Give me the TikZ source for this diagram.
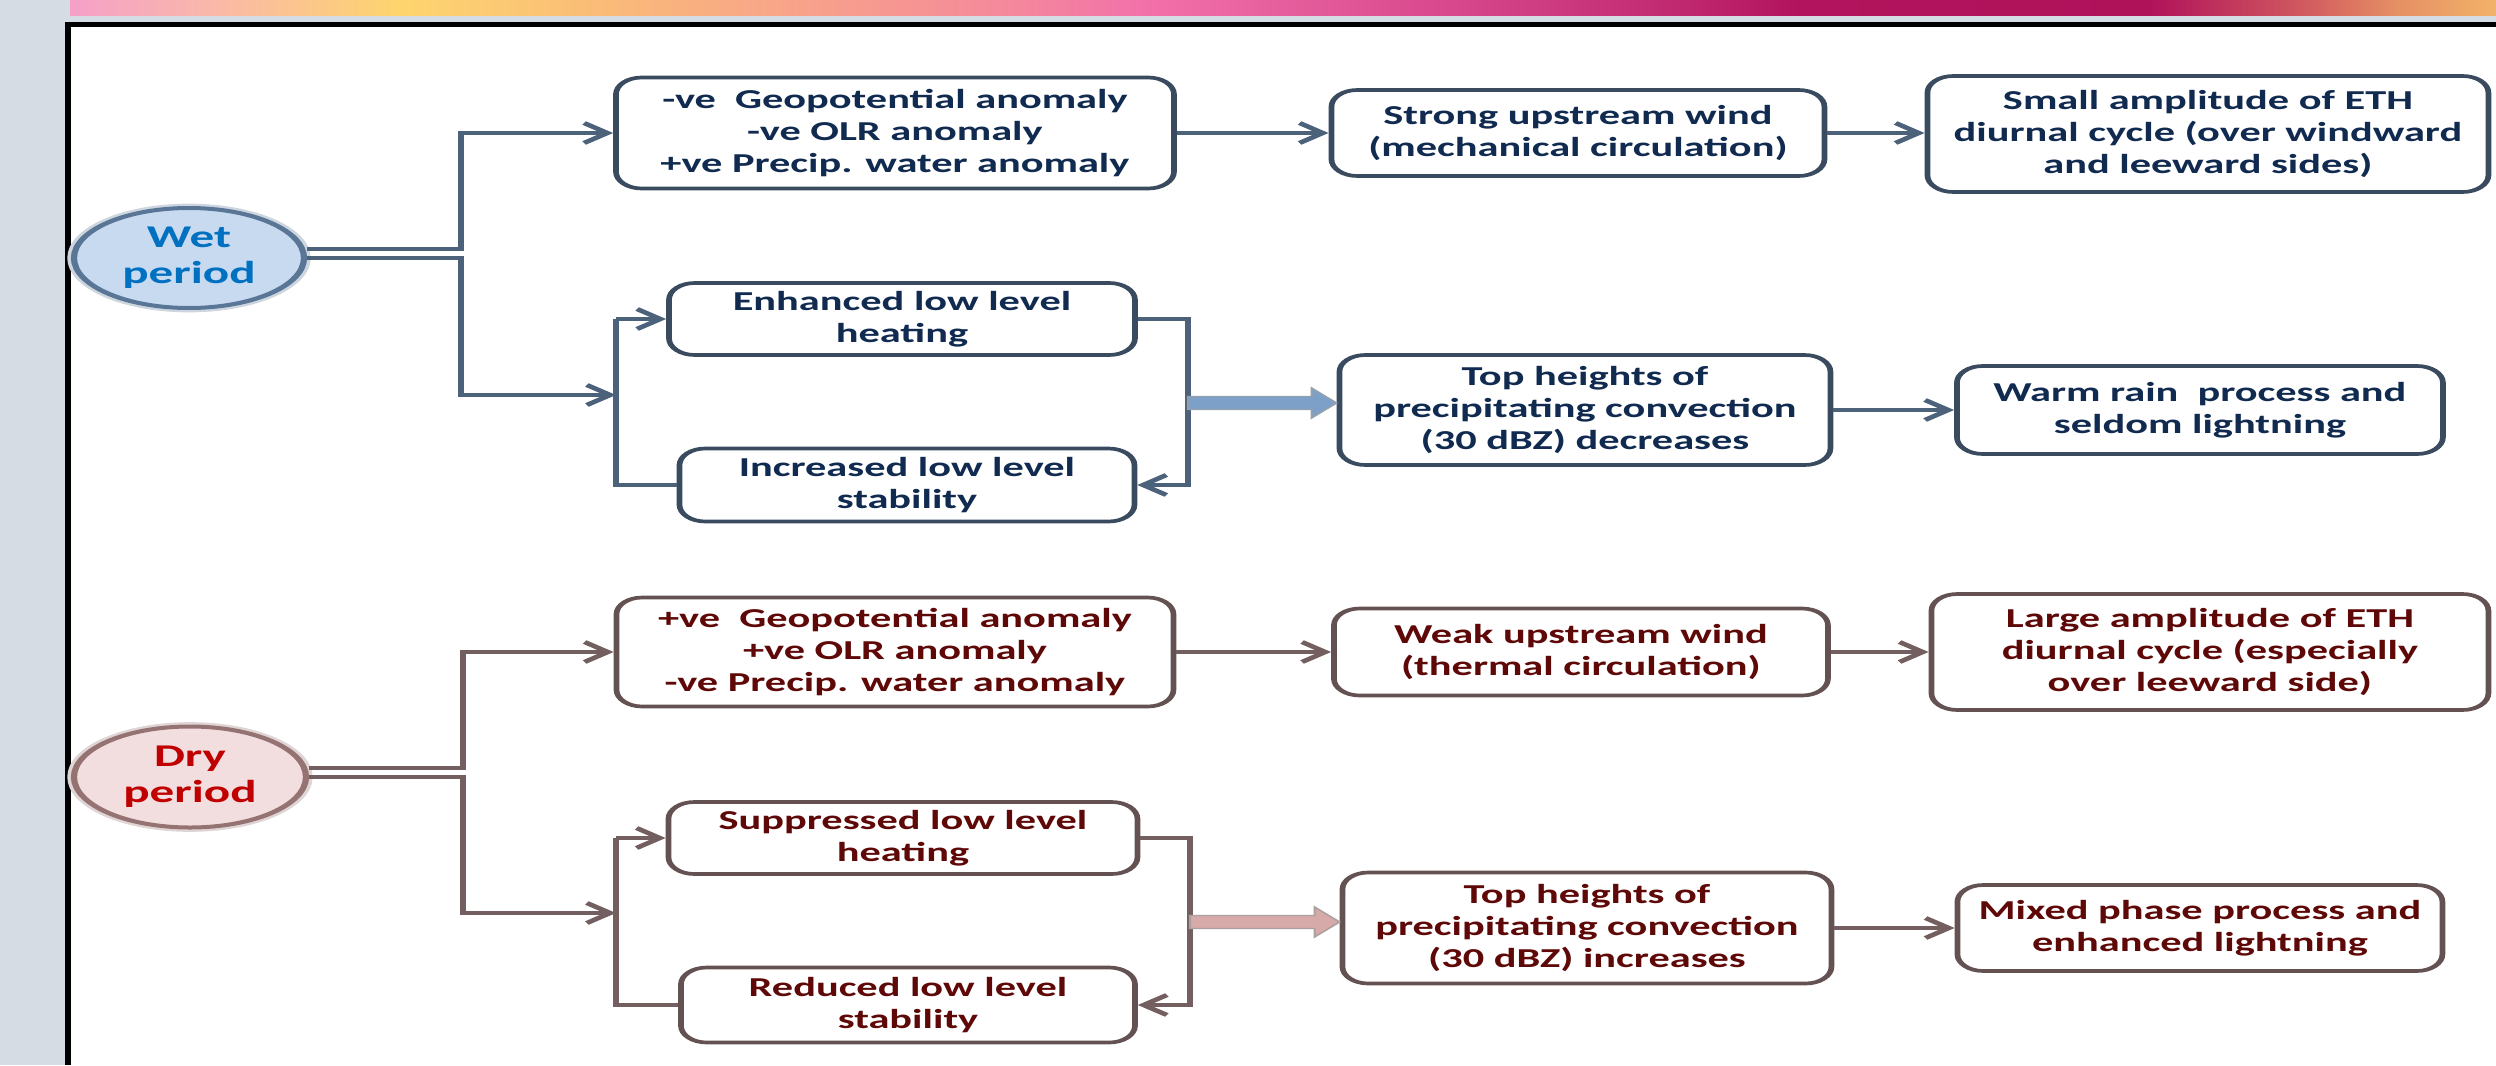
\documentclass[tikz,border=0pt]{standalone}
\usepackage{fontspec}
\setmainfont{Carlito}
\usetikzlibrary{arrows.meta,shapes.geometric,calc}
\definecolor{bggray}{RGB}{214,220,228}
\definecolor{wettext}{RGB}{0,112,192}
\definecolor{wetfill}{RGB}{200,218,240}
\definecolor{wetborder}{RGB}{90,118,150}
\definecolor{bluetext}{RGB}{16,42,80}
\definecolor{blueborder}{RGB}{58,75,95}
\definecolor{blueline}{RGB}{75,98,122}
\definecolor{bluearrow}{RGB}{125,160,200}
\definecolor{drytext}{RGB}{192,0,0}
\definecolor{dryfill}{RGB}{242,222,222}
\definecolor{dryborder}{RGB}{150,115,115}
\definecolor{redtext}{RGB}{95,8,8}
\definecolor{redborder}{RGB}{100,82,82}
\definecolor{redline}{RGB}{115,95,95}
\definecolor{redarrow}{RGB}{215,170,170}
\definecolor{g0}{RGB}{245,160,200}
\definecolor{g1}{RGB}{249,182,172}
\definecolor{g2}{RGB}{253,213,110}
\definecolor{g3}{RGB}{250,188,120}
\definecolor{g4}{RGB}{248,162,138}
\definecolor{g5}{RGB}{244,138,155}
\definecolor{g6}{RGB}{242,112,170}
\definecolor{g7}{RGB}{215,72,140}
\definecolor{g8}{RGB}{195,45,115}
\definecolor{g9}{RGB}{178,20,93}
\definecolor{g10}{RGB}{176,18,90}
\definecolor{g11}{RGB}{208,88,95}
\definecolor{g12}{RGB}{230,145,100}
\definecolor{g13}{RGB}{242,178,105}
\pgfdeclarehorizontalshading{topbar}{100bp}{color(0bp)=(g0); color(25bp)=(g0); color(27.7bp)=(g1); color(31.8bp)=(g2); color(35.9bp)=(g3); color(40.05bp)=(g4); color(44.15bp)=(g5); color(47.25bp)=(g6); color(53.45bp)=(g7); color(57.55bp)=(g8); color(60.65bp)=(g9); color(67.85bp)=(g10); color(70.95bp)=(g11); color(73bp)=(g12); color(75bp)=(g13); color(100bp)=(g13)}
\newcommand\bxf{\fontsize{8.2pt}{9.7pt}\selectfont\bfseries}
\newcommand\elf{\fontsize{9.5pt}{10.8pt}\selectfont\bfseries}
\tikzset{
  sz/.style 2 args={minimum width=#1*0.193548pt, minimum height=#2*0.3pt},
  wbox/.style={draw=blueborder, line width=1.1pt, rounded corners=5pt, fill=white, text=bluetext, font=\bxf, align=center, inner sep=0pt},
  dbox/.style={draw=redborder, line width=1.1pt, rounded corners=5pt, fill=white, text=redtext, font=\bxf, align=center, inner sep=0pt},
  wline/.style={draw=blueline, line width=1.25pt},
  dline/.style={draw=redline, line width=1.25pt},
  warr/.style={wline, -{Straight Barb[length=4.5pt,width=6pt]}},
  darr/.style={dline, -{Straight Barb[length=4.5pt,width=6pt]}},
  wellipse/.style={ellipse, draw=wetborder, line width=1.2pt, fill=wetfill, text=wettext, font=\elf, align=center, inner sep=0pt, sz={230}{100}, preaction={draw=wetborder!30, line width=2.6pt}},
  dellipse/.style={ellipse, draw=dryborder, line width=1.2pt, fill=dryfill, text=drytext, font=\elf, align=center, inner sep=0pt, sz={232}{101}, preaction={draw=dryborder!30, line width=2.6pt}}
}
\begin{document}
\begin{tikzpicture}[x=0.3pt,y=-0.3pt]
\useasboundingbox (0,0) rectangle (2496,1065);
\fill[white] (0,0) rectangle (2496,1065);
\fill[bggray] (0,0) rectangle (2496,22);
\fill[bggray] (0,0) rectangle (65,1065);
\shade[shading=topbar] (70,0) rectangle (2496,15);
\fill[black] (65,22) rectangle (2496,27);
\fill[black] (65,22) rectangle (71,1065);

\begin{scope}[transform canvas={xscale=1.55}, x=0.193548pt, y=-0.3pt]
% ---------------- Wet period ----------------
\node[wellipse] (wet) at (189,258) {Wet\\period};
\node[wbox, sz={558}{111}] (b1) at (895,133) {-ve\ \ Geopotential anomaly\\-ve OLR anomaly\\+ve Precip. water anomaly};
\node[wbox, sz={493}{86}] (b2) at (1578,133) {Strong upstream wind\\(mechanical circulation)};
\node[wbox, sz={561}{116}] (b3) at (2208,134) {Small amplitude of ETH\\diurnal cycle (over windward\\and leeward sides)};
\node[wbox, sz={466}{72}] (b4) at (902,319) {Enhanced low level\\heating};
\node[wbox, sz={455}{73}] (b5) at (907,485) {Increased low level\\stability};
\node[wbox, sz={491}{110}] (b6) at (1585,410) {Top heights of\\precipitating convection\\(30 dBZ) decreases};
\node[wbox, sz={486}{88}] (b7) at (2200,410) {Warm rain\ \ process and\\seldom lightning};
\coordinate (wj) at (616,395);
\coordinate (wk) at (1188,403);

\draw[warr] ($(wet.east)+(0,-9)$) -- ++(154,0) |- (b1.west);
\draw[warr] (wet.east) -- ++(154,0) |- (wj);
\draw[wline] (b4.west -| wj) -- (b5.west -| wj) -- (b5.west);
\draw[warr] (b4.west -| wj) -- (b4.west);
\draw[warr] (b4.east) -- (b4.east -| wk) |- (b5.east);
\draw[warr] (b1.east) -- (b2.west |- b1.east);
\draw[warr] (b2.east) -- (b3.west |- b2.east);
\draw[warr] (b6.east) -- (b7.west |- b6.east);
\coordinate (wt) at (b6.west |- wk);
\filldraw[fill=bluearrow, draw=blueline!60, line width=0.4pt] ($(wk)+(0,-6.5)$) -- ($(wt)+(-25,-6.5)$) -- ($(wt)+(-25,-15)$) -- (wt) -- ($(wt)+(-25,15)$) -- ($(wt)+(-25,6.5)$) -- ($(wk)+(0,6.5)$) -- cycle;

% ---------------- Dry period ----------------
\node[dellipse] (dry) at (190,777) {Dry\\period};
\node[dbox, sz={557}{109}] (b8) at (895,652) {+ve\ \ Geopotential anomaly\\+ve OLR anomaly\\-ve Precip. water anomaly};
\node[dbox, sz={494}{87}] (b9) at (1581,652) {Weak upstream wind\\(thermal circulation)};
\node[dbox, sz={557}{116}] (b10) at (2210,652) {Large amplitude of ETH\\diurnal cycle (especially\\over leeward side)};
\node[dbox, sz={469}{72}] (b11) at (903,838) {Suppressed low level\\heating};
\node[dbox, sz={454}{75}] (b12) at (908,1005) {Reduced low level\\stability};
\node[dbox, sz={489}{111}] (b13) at (1587,928) {Top heights of\\precipitating convection\\(30 dBZ) increases};
\node[dbox, sz={485}{86}] (b14) at (2200,928) {Mixed phase process and\\enhanced lightning};
\coordinate (dj) at (616,913);
\coordinate (dk) at (1190,922);

\draw[darr] ($(dry.east)+(0,-9)$) -- ++(154,0) |- (b8.west);
\draw[darr] (dry.east) -- ++(154,0) |- (dj);
\draw[dline] (b11.west -| dj) -- (b12.west -| dj) -- (b12.west);
\draw[darr] (b11.west -| dj) -- (b11.west);
\draw[darr] (b11.east) -- (b11.east -| dk) |- (b12.east);
\draw[darr] (b8.east) -- (b9.west |- b8.east);
\draw[darr] (b9.east) -- (b10.west |- b9.east);
\draw[darr] (b13.east) -- (b14.west |- b13.east);
\coordinate (dt) at (b13.west |- dk);
\filldraw[fill=redarrow, draw=redline!60, line width=0.4pt] ($(dk)+(0,-6.5)$) -- ($(dt)+(-25,-6.5)$) -- ($(dt)+(-25,-15)$) -- (dt) -- ($(dt)+(-25,15)$) -- ($(dt)+(-25,6.5)$) -- ($(dk)+(0,6.5)$) -- cycle;
\end{scope}
\end{tikzpicture}
\end{document}
